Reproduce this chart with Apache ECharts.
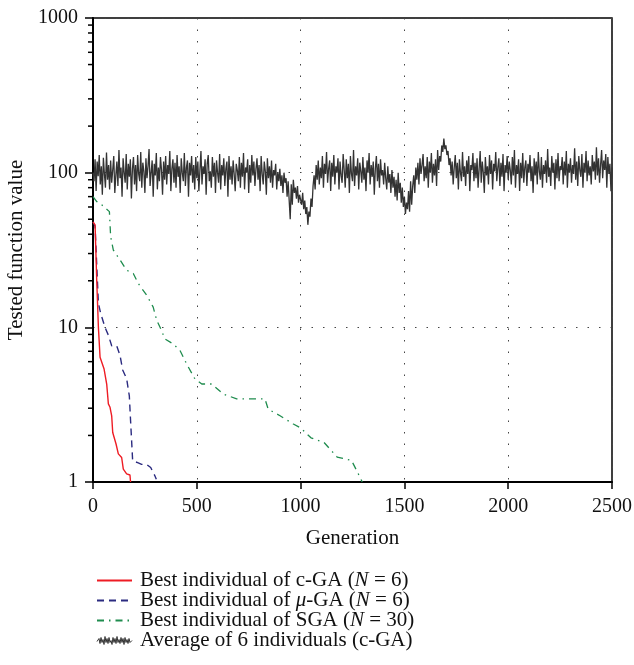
<!DOCTYPE html>
<html>
<head>
<meta charset="utf-8">
<script src="https://cdn.jsdelivr.net/npm/echarts@6/dist/echarts.min.js"></script>
<style>
html,body{margin:0;padding:0;background:#fff;}
#chart{width:634px;height:665px;}
</style>
</head>
<body>
<div id="chart"></div>
<script>
// ---- data ----
const xTicks = [0, 500, 1000, 1500, 2000, 2500];
const yTicks = [1, 10, 100, 1000];
const yMinorTicks = [2,3,4,5,6,7,8,9,20,30,40,50,60,70,80,90,200,300,400,500,600,700,800,900];

const cgaGen = [0, 10, 18, 26, 34, 53, 66, 74, 82, 90, 95, 111, 122, 138, 146, 162, 178, 181];
const cgaVal = [48, 46, 20, 10, 6.4, 5.4, 4.3, 3.2, 3.04, 2.68, 2.09, 1.76, 1.52, 1.44, 1.21, 1.13, 1.11, 1.0];

const muGen = [0, 10, 26, 37, 58, 74, 90, 114, 130, 143, 162, 175, 181, 191, 218, 234, 258, 278, 299, 305];
const muVal = [48, 45, 14.3, 12.3, 10, 8.9, 7.6, 7.6, 6.6, 5.3, 4.66, 3.6, 2.49, 1.37, 1.33, 1.30, 1.30, 1.24, 1.09, 1.04];

const sgaGen = [0, 18, 42, 79, 85, 98, 130, 162, 194, 218, 259, 290, 307, 323, 347, 387, 419, 451, 491, 524, 572, 628, 692, 828, 844, 901, 965, 1000, 1050, 1113, 1176, 1245, 1271, 1297];
const sgaVal = [70, 65, 62, 56, 38.6, 31.6, 27.3, 23.4, 22.3, 19.2, 16.1, 13.5, 11.1, 10, 8.4, 7.8, 7.1, 5.8, 4.64, 4.3, 4.3, 3.7, 3.45, 3.45, 2.96, 2.68, 2.37, 2.24, 1.93, 1.80, 1.45, 1.38, 1.18, 1.0];

const avgStep = 5; // generations between samples of the c-GA average
const avgVal = [
100, 88, 122, 76, 118, 95, 130, 84, 110, 72, 125, 98, 80, 135, 90, 112, 78, 120, 86, 104,
128, 74, 96, 118, 82, 140, 92, 108, 70, 124, 100, 86, 132, 78, 114, 94, 122, 68, 106, 126,
84, 112, 76, 130, 98, 88, 136, 80, 116, 102, 74, 124, 92, 110, 142, 82, 100, 120, 70, 114,
96, 134, 78, 108, 88, 126, 104, 72, 118, 90, 128, 84, 112, 98, 138, 76, 106, 122, 86, 116,
80, 130, 94, 110, 74, 124, 100, 88, 134, 82, 108, 120, 70, 116, 96, 128, 86, 112, 78, 126,
92, 118, 76, 104, 138, 84, 110, 98, 122, 72, 114, 130, 88, 102, 80, 126, 94, 116, 74, 120,
100, 86, 132, 78, 112, 96, 124, 82, 106, 118, 70, 128, 90, 110, 84, 120, 98, 76, 114, 104,
88, 126, 80, 116, 94, 134, 78, 108, 100, 122, 74, 112, 86, 130, 96, 118, 82, 106, 124, 90,
112, 76, 128, 98, 84, 118, 102, 72, 124, 92, 110, 86, 120, 80, 104, 96, 114, 78, 100, 88,
106, 82, 96, 74, 100, 86, 92, 70, 88, 66, 50, 84, 62, 90, 74, 80, 68, 82, 64, 72,
70, 62, 74, 58, 66, 54, 60, 46, 56, 52, 68, 60, 82, 96, 78, 112, 90, 120, 84, 108,
92, 128, 80, 114, 98, 136, 86, 106, 120, 76, 116, 94, 130, 84, 110, 100, 124, 78, 118, 96,
86, 132, 104, 80, 122, 92, 114, 74, 128, 98, 88, 140, 82, 110, 96, 124, 78, 116, 102, 86,
126, 90, 108, 76, 120, 100, 134, 84, 112, 94, 118, 72, 106, 128, 88, 114, 80, 122, 96, 104,
84, 116, 92, 78, 110, 86, 98, 74, 104, 80, 94, 70, 90, 66, 100, 74, 86, 64, 80, 60,
70, 54, 64, 58, 76, 56, 88, 62, 82, 96, 74, 108, 90, 116, 84, 124, 98, 112, 132, 88,
110, 92, 126, 80, 118, 100, 134, 86, 114, 96, 122, 82, 140, 104, 128, 118, 150, 136, 166, 142,
150, 130, 138, 112, 124, 96, 118, 84, 108, 130, 92, 116, 78, 122, 100, 88, 136, 94, 110, 82,
120, 98, 128, 76, 112, 104, 134, 88, 116, 92, 124, 80, 106, 138, 86, 118, 100, 74, 126, 96,
110, 84, 130, 98, 120, 78, 114, 102, 136, 88, 108, 124, 82, 116, 94, 132, 76, 112, 100, 128,
90, 118, 104, 84, 126, 96, 140, 80, 112, 98, 122, 76, 116, 92, 134, 86, 108, 120, 82, 114,
100, 130, 88, 110, 74, 124, 96, 118, 84, 136, 102, 90, 126, 80, 112, 98, 120, 86, 142, 94,
108, 82, 128, 100, 116, 78, 122, 92, 134, 88, 110, 104, 126, 84, 118, 96, 138, 80, 114, 100,
124, 86, 112, 98, 144, 90, 118, 82, 128, 104, 94, 132, 80, 116, 100, 138, 88, 120, 96, 110,
84, 130, 102, 118, 90, 146, 96, 124, 86, 112, 140, 92, 120, 104, 132, 80, 126, 98, 114, 76, 108
];

const legendLabels = {
  cga: '{t|Best individual of c-GA (}{i|N}{t| = 6)}',
  mga: '{t|Best individual of }{i|μ}{t|-GA (}{i|N}{t| = 6)}',
  sga: '{t|Best individual of SGA (}{i|N}{t| = 30)}',
  avg: '{t|Average of 6 individuals (c-GA)}'
};
const xName = 'Generation';
const yName = 'Tested function value';

// ---- build ----
const FONT = 'Liberation Serif';
const pairs = (xs, ys) => xs.map((x, i) => [x, ys[i]]);
const avgData = avgVal.map((v, i) => [i * avgStep, v]);
const hideDot = {opacity: 0};

const chart = echarts.init(document.getElementById('chart'), null, {renderer: 'canvas'});
const option = {
  animation: false,
  backgroundColor: '#fff',
  grid: {left: 93, right: 22, top: 18, bottom: 183, containLabel: false, outerBoundsMode: 'none',
         show: true, borderColor: '#000', borderWidth: 1.5, backgroundColor: 'transparent'},
  xAxis: {
    type: 'value', min: xTicks[0], max: xTicks[xTicks.length - 1], interval: 500,
    name: xName, nameLocation: 'middle', nameGap: 46,
    nameTextStyle: {fontFamily: FONT, fontSize: 21, color: '#111'},
    axisLine: {show: true, lineStyle: {color: '#000', width: 2}},
    axisTick: {show: true, inside: false, length: 7, lineStyle: {color: '#000', width: 1.5}},
    axisLabel: {fontFamily: FONT, fontSize: 20, color: '#111', margin: 15, formatter: v => String(v)},
    splitLine: {show: true, lineStyle: {color: '#444', width: 1, type: [1.5, 10]}}
  },
  yAxis: {
    type: 'log', logBase: 10, min: yTicks[0], max: yTicks[yTicks.length - 1],
    name: yName, nameLocation: 'middle', nameGap: 66,
    nameTextStyle: {fontFamily: FONT, fontSize: 21, color: '#111'},
    axisLine: {show: true, lineStyle: {color: '#000', width: 2}},
    axisTick: {show: true, inside: false, length: 8, lineStyle: {color: '#000', width: 1.5}},
    axisLabel: {fontFamily: FONT, fontSize: 20, color: '#111', margin: 15, formatter: v => String(v)},
    splitLine: {show: true, lineStyle: {color: '#444', width: 1, type: [1.5, 10]}}
  },
  legend: {
    orient: 'vertical', left: 91, top: 565, height: 95,
    itemWidth: 35, itemHeight: 8, itemGap: -1,
    symbolKeepAspect: false,
    selectedMode: false,
    data: [
      {name: 'cga', itemStyle: hideDot},
      {name: 'mga', itemStyle: hideDot},
      {name: 'sga', itemStyle: hideDot},
      {name: 'avg', icon: 'path://M0,5L2,2L3,7L4,1L5,6L6,3L7,8L8,0L9,6L10,2L11,7L12,1L13,6L14,4L15,8L16,1L17,6L18,2L19,7L20,0L21,6L22,3L23,7L24,1L25,6L26,2L27,8L28,1L29,6L30,3L31,7L32,2L33,6L35,4',
       itemStyle: {color: 'rgba(0,0,0,0)', borderColor: '#333', borderWidth: 1, opacity: 1}}
    ],
    formatter: name => legendLabels[name],
    textStyle: {
      fontFamily: FONT, fontSize: 21, lineHeight: 20, color: '#111', padding: [0, 0, 0, 3],
      rich: {
        t: {fontFamily: FONT, fontSize: 21, lineHeight: 20, color: '#111'},
        i: {fontFamily: FONT, fontSize: 21, lineHeight: 20, fontStyle: 'italic', color: '#111'}
      }
    }
  },
  series: [
    {name: 'avg', type: 'line', data: avgData, symbol: 'none', z: 2,
     lineStyle: {color: '#333', width: 1.3}, itemStyle: {color: '#333'}},
    {name: 'sga', type: 'line', data: pairs(sgaGen, sgaVal), symbol: 'none', z: 3,
     lineStyle: {color: '#1f8c4e', width: 1.3, type: [7, 5, 1.5, 5]}, itemStyle: {color: '#1f8c4e'}},
    {name: 'mga', type: 'line', data: pairs(muGen, muVal), symbol: 'none', z: 3,
     lineStyle: {color: '#2b2b80', width: 1.4, type: [7, 5]}, itemStyle: {color: '#2b2b80'}},
    {name: 'cga', type: 'line', data: pairs(cgaGen, cgaVal), symbol: 'none', z: 4,
     lineStyle: {color: '#ee1c24', width: 1.4}, itemStyle: {color: '#ee1c24'}},
    {name: 'minorTicks', type: 'custom', clip: false, silent: true, z: 5,
     data: yMinorTicks.map(v => [xTicks[0], v]),
     renderItem: (params, api) => {
       const p = api.coord([api.value(0), api.value(1)]);
       return {type: 'line', shape: {x1: p[0] - 5, y1: p[1], x2: p[0], y2: p[1]},
               style: {stroke: '#000', lineWidth: 1.5}};
     }}
  ]
};
chart.setOption(option);
</script>
</body>
</html>
